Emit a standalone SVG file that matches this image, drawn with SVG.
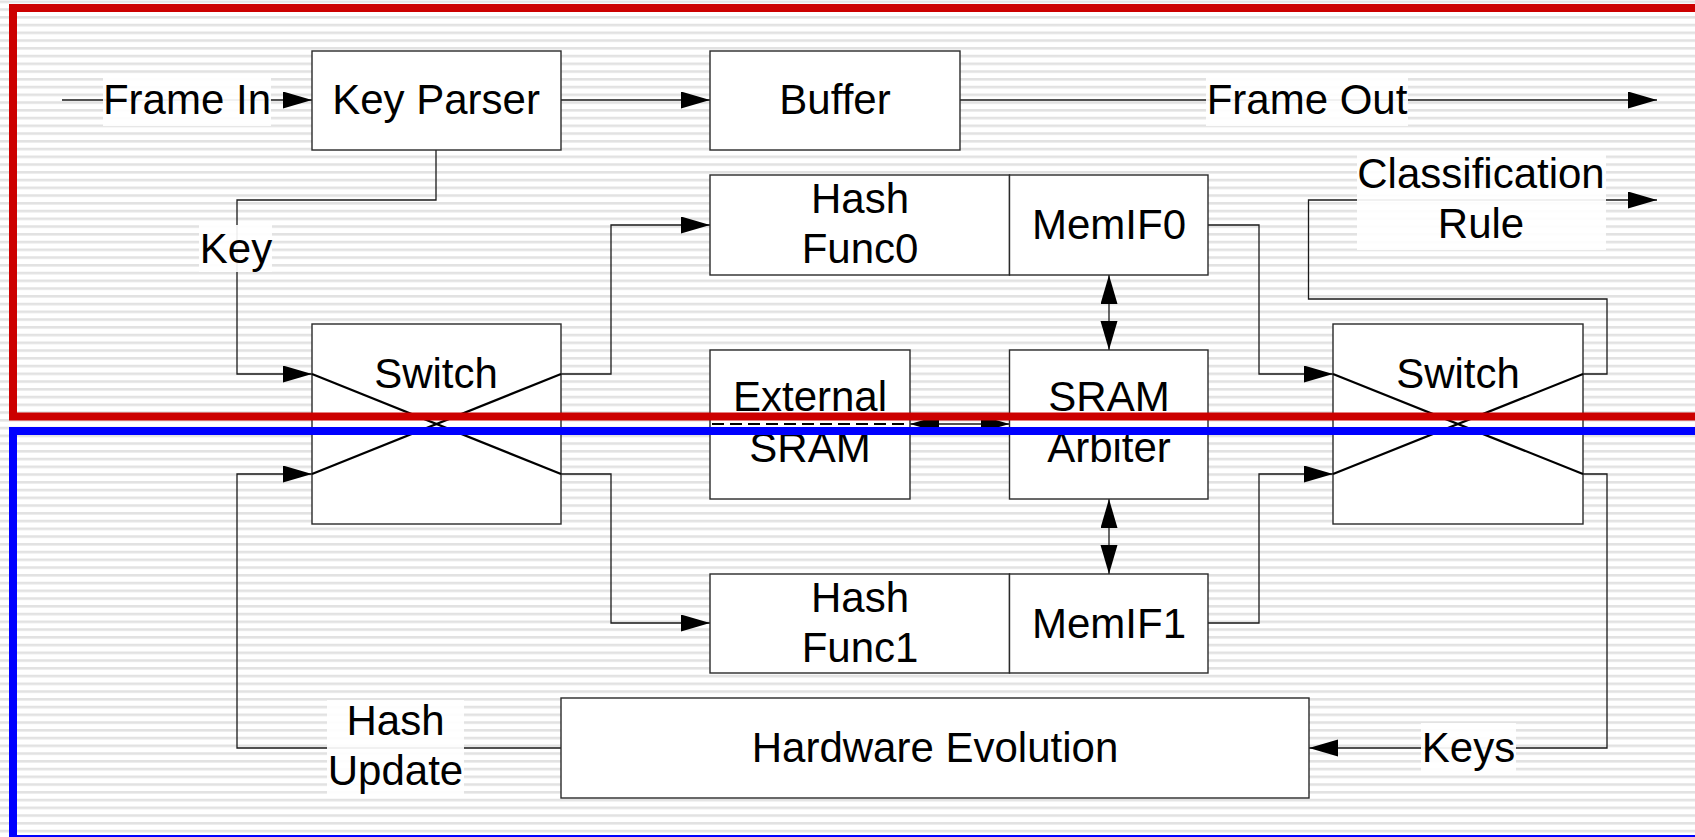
<svg xmlns="http://www.w3.org/2000/svg" width="1695" height="837" viewBox="0 0 1695 837">
<defs>
<pattern id="stripes" patternUnits="userSpaceOnUse" x="0" y="0.5" width="20" height="7.75">
<rect x="0" y="0" width="20" height="7.75" fill="#ffffff"/>
<rect x="0" y="0" width="20" height="2.6" fill="#e2e2e2"/>
</pattern>
<marker id="arr" markerUnits="userSpaceOnUse" markerWidth="30" markerHeight="18" refX="29" refY="8.5" orient="auto-start-reverse">
<path d="M0,0 L29,8.5 L0,17 z" fill="#000"/>
</marker>
<style>
.box{fill:#fff;stroke:#2a2a2a;stroke-width:1.4}
.lbl{fill:#fff;fill-opacity:0.92}
.t{font-family:"Liberation Sans",Arial,sans-serif;font-size:42px;fill:#000;text-anchor:middle}
.c{fill:none;stroke:#1a1a1a;stroke-width:1.3}
.ca{fill:none;stroke:#1a1a1a;stroke-width:1.3;marker-end:url(#arr)}
.cd{fill:none;stroke:#1a1a1a;stroke-width:1.3;marker-start:url(#arr);marker-end:url(#arr)}
.x{stroke:#000;stroke-width:2.2}
.frame{fill:none;stroke-width:8}
</style>
</defs>
<rect x="0" y="0" width="1695" height="837" fill="url(#stripes)"/>

<g id="connectors">
<path class="ca" d="M62,100 L312,100"/>
<path class="ca" d="M561,100 L710,100"/>
<path class="ca" d="M960,100 L1657,100"/>
<path class="ca" d="M436,150 L436,200 L237,200 L237,374 L312,374"/>
<path class="ca" d="M561,374 L611,374 L611,225 L710,225"/>
<path class="ca" d="M561,474 L611,474 L611,623 L710,623"/>
<path class="ca" d="M1208,225 L1259,225 L1259,374 L1333,374"/>
<path class="ca" d="M1208,623 L1259,623 L1259,474 L1333,474"/>
<path class="ca" d="M1583,374 L1607,374 L1607,299 L1308.5,299 L1308.5,200 L1657,200"/>
<path class="ca" d="M1583,474 L1607,474 L1607,748 L1309,748"/>
<path class="ca" d="M561,748 L237,748 L237,474 L312,474"/>
<path class="cd" d="M1109,275 L1109,350"/>
<path class="cd" d="M1109,499 L1109,574"/>
<path class="cd" d="M910,424 L1009.5,424"/>
</g>

<g id="key-parser">
<rect class="box" x="312" y="51" width="249" height="99"/>
<text class="t" x="436" y="114">Key Parser</text>
</g>
<g id="buffer">
<rect class="box" x="710" y="51" width="250" height="99"/>
<text class="t" x="835" y="114">Buffer</text>
</g>
<g id="hash-func0">
<rect class="box" x="710" y="175" width="299.5" height="100"/>
<text class="t" x="860" y="213">Hash</text>
<text class="t" x="860" y="263">Func0</text>
</g>
<g id="memif0">
<rect class="box" x="1009.5" y="175" width="198.5" height="100"/>
<text class="t" x="1109" y="239">MemIF0</text>
</g>
<g id="switch1">
<rect class="box" x="312" y="324" width="249" height="200"/>
<text class="t" x="436" y="388">Switch</text>
<line class="x" x1="312" y1="374" x2="561" y2="474"/>
<line class="x" x1="312" y1="474" x2="561" y2="374"/>
</g>
<g id="external-sram">
<rect class="box" x="710" y="350" width="200" height="149"/>
<text class="t" x="810" y="411">External</text>
<text class="t" x="810" y="462">SRAM</text>
<line x1="712" y1="424" x2="910" y2="424" stroke="#000" stroke-width="2" stroke-dasharray="12,6"/>
</g>
<g id="sram-arbiter">
<rect class="box" x="1009.5" y="350" width="198.5" height="149"/>
<text class="t" x="1109" y="411">SRAM</text>
<text class="t" x="1109" y="462">Arbiter</text>
</g>
<g id="switch2">
<rect class="box" x="1333" y="324" width="250" height="200"/>
<text class="t" x="1458" y="388">Switch</text>
<line class="x" x1="1333" y1="374" x2="1583" y2="474"/>
<line class="x" x1="1333" y1="474" x2="1583" y2="374"/>
</g>
<g id="hash-func1">
<rect class="box" x="710" y="574" width="299.5" height="99"/>
<text class="t" x="860" y="612">Hash</text>
<text class="t" x="860" y="662">Func1</text>
</g>
<g id="memif1">
<rect class="box" x="1009.5" y="574" width="198.5" height="99"/>
<text class="t" x="1109" y="638">MemIF1</text>
</g>
<g id="hardware-evolution">
<rect class="box" x="561" y="698" width="748" height="100"/>
<text class="t" x="935" y="762">Hardware Evolution</text>
</g>

<g id="label-frame-in">
<rect class="lbl" x="103" y="77" width="168" height="49"/>
<text class="t" x="187" y="114">Frame In</text>
</g>
<g id="label-frame-out">
<rect class="lbl" x="1206" y="77" width="202" height="49"/>
<text class="t" x="1307" y="114">Frame Out</text>
</g>
<g id="label-classification-rule">
<rect class="lbl" x="1357" y="154" width="249" height="96"/>
<text class="t" x="1481" y="188">Classification</text>
<text class="t" x="1481" y="238">Rule</text>
</g>
<g id="label-key">
<rect class="lbl" x="199" y="225" width="73" height="47"/>
<text class="t" x="236" y="263">Key</text>
</g>
<g id="label-hash-update">
<rect class="lbl" x="327" y="700" width="137" height="95"/>
<text class="t" x="395.5" y="735">Hash</text>
<text class="t" x="395.5" y="785">Update</text>
</g>
<g id="label-keys">
<rect class="lbl" x="1421" y="723" width="95" height="49"/>
<text class="t" x="1468.5" y="762">Keys</text>
</g>

<g id="frames">
<rect class="frame" x="13" y="8" width="1700" height="408.5" stroke="#cc0000"/>
<rect class="frame" x="13" y="431" width="1700" height="408" stroke="#0000ff"/>
</g>
</svg>
